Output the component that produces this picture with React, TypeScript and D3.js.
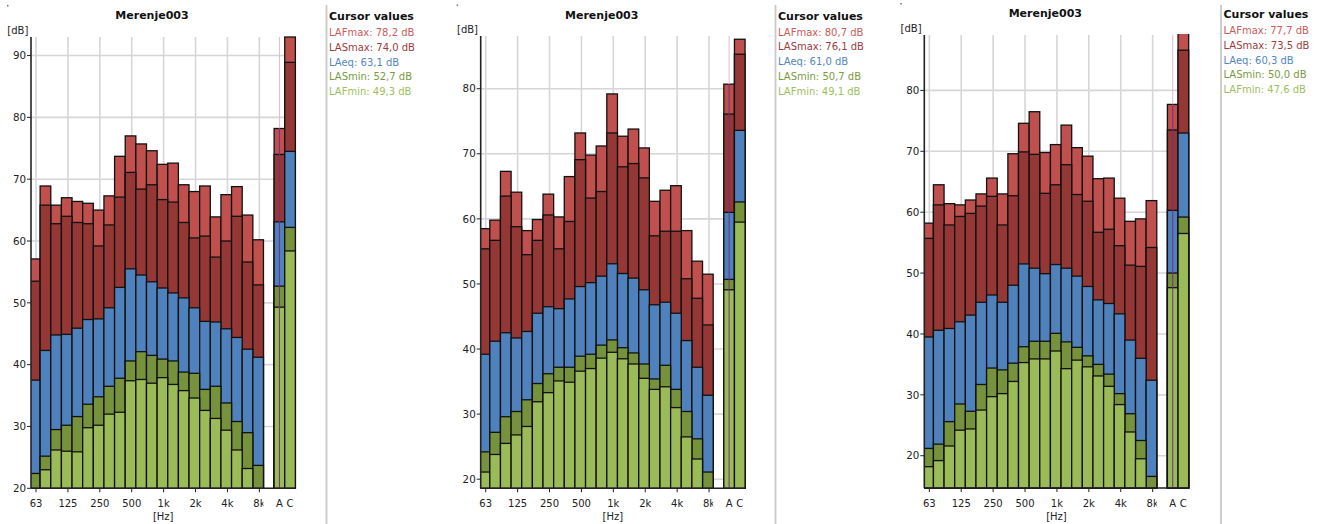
import React from 'react';
import * as d3 from 'd3';

// ---------- data ----------
const BANDS = ['63', '80', '100', '125', '160', '200', '250', '315', '400', '500', '630', '800', '1k', '1.25k', '1.6k', '2k', '2.5k', '3.15k', '4k', '5k', '6.3k', '8k'];
const SLOTS = [...BANDS, 'gap', 'A', 'C'];
const OCTAVE_TICKS = ['63', '125', '250', '500', '1k', '2k', '4k', '8k'];
const OCTAVE_LABELS = ['63', '125', '250', '500', '1k', '2k', '4k', '8k'];
const SERIES = ['LAFmax', 'LASmax', 'LAeq', 'LASmin', 'LAFmin'];
const BAR_COLORS = ['#C0504D', '#953735', '#4F81BD', '#76923C', '#9BBB59'];
const TEXT_COLORS = ['#CB5B59', '#A03C3A', '#5486C2', '#7A9A3F', '#9DBF5C'];
const TITLE = 'Merenje003';

// panel 1
const p1LAFmax = [57.1, 68.9, 65.8, 67.0, 66.4, 66.1, 65.0, 67.3, 73.7, 77.0, 75.7, 74.6, 72.4, 72.6, 69.1, 68.0, 68.9, 63.9, 67.5, 68.8, 64.2, 60.2];
const p1LASmax = [53.5, 65.8, 62.8, 64.0, 63.0, 62.8, 59.2, 62.6, 67.1, 71.1, 68.4, 69.1, 66.7, 66.3, 63.0, 60.5, 60.8, 57.4, 60.0, 64.0, 56.6, 52.9];
const p1LAeq = [37.5, 42.3, 44.8, 44.9, 45.9, 47.3, 47.4, 49.2, 52.5, 55.5, 54.5, 53.4, 52.4, 51.6, 50.8, 49.2, 47.0, 46.9, 45.8, 44.4, 42.5, 41.2];
const p1LASmin = [22.4, 25.2, 29.5, 30.2, 31.6, 33.6, 34.8, 36.5, 37.8, 40.6, 42.1, 41.5, 40.9, 40.6, 38.8, 38.6, 36.0, 36.5, 33.8, 30.8, 29.0, 23.7];
const p1LAFmin = [19.5, 23.0, 26.2, 26.0, 25.9, 29.8, 30.2, 32.0, 32.3, 37.4, 37.6, 37.0, 37.9, 36.8, 35.8, 34.6, 32.6, 31.3, 29.4, 26.2, 23.2, 19.0];
const p1A = [78.2, 74.0, 63.1, 52.7, 49.3];
const p1C = [93.0, 88.9, 74.5, 62.2, 58.4];
const p1Ticks = [20, 30, 40, 50, 60, 70, 80, 90];

// panel 2
const p2LAFmax = [58.5, 59.8, 67.3, 64.1, 58.2, 59.9, 63.8, 60.3, 66.5, 73.2, 69.8, 71.2, 79.2, 72.7, 73.8, 70.9, 62.7, 64.4, 65.1, 58.2, 53.5, 51.5];
const p2LASmax = [55.4, 56.7, 63.5, 58.8, 54.5, 56.7, 60.6, 55.4, 59.6, 69.1, 63.2, 64.2, 73.2, 68.0, 68.5, 66.3, 57.4, 58.1, 58.1, 50.8, 47.8, 43.7];
const p2LAeq = [39.2, 41.2, 42.5, 41.7, 42.7, 45.5, 46.5, 46.2, 47.7, 49.6, 50.2, 51.2, 53.1, 51.6, 50.9, 49.1, 46.8, 47.2, 45.5, 41.3, 37.2, 32.9];
const p2LASmin = [24.2, 27.2, 29.6, 30.4, 32.2, 34.7, 36.2, 37.2, 37.2, 38.9, 39.2, 40.6, 41.4, 40.2, 39.4, 37.7, 35.4, 37.5, 33.8, 30.4, 26.2, 21.1];
const p2LAFmin = [21.1, 23.8, 25.5, 26.8, 28.1, 31.9, 33.3, 35.1, 34.9, 36.6, 37.0, 38.6, 39.5, 38.5, 37.7, 35.5, 33.8, 34.2, 31.0, 26.5, 23.1, 18.0];
const p2A = [80.7, 76.1, 61.0, 50.7, 49.1];
const p2C = [87.6, 85.3, 73.6, 62.6, 59.5];
const p2Ticks = [20, 30, 40, 50, 60, 70, 80];

// panel 3
const p3LAFmax = [58.2, 64.5, 61.4, 61.2, 62.0, 63.0, 65.6, 63.0, 69.6, 74.6, 76.5, 69.8, 71.1, 74.3, 70.6, 69.2, 65.5, 65.6, 62.3, 58.5, 58.9, 61.9];
const p3LASmax = [55.7, 61.2, 57.9, 59.3, 59.8, 61.0, 62.6, 57.9, 62.7, 69.9, 69.5, 63.1, 64.5, 67.8, 62.9, 61.8, 56.7, 57.2, 54.5, 51.3, 51.1, 54.2];
const p3LAeq = [39.5, 40.6, 40.9, 42.0, 43.1, 45.2, 46.4, 45.2, 48.0, 51.5, 50.8, 49.9, 51.4, 50.8, 49.5, 47.8, 45.6, 45.0, 43.3, 39.0, 36.0, 32.4];
const p3LASmin = [21.2, 21.9, 25.6, 28.5, 27.3, 31.7, 34.4, 34.1, 35.2, 37.9, 38.8, 38.8, 40.1, 38.7, 37.8, 36.4, 35.0, 33.4, 30.2, 26.9, 22.5, 16.6];
const p3LAFmin = [18.2, 19.2, 21.6, 24.2, 24.4, 27.5, 29.7, 30.2, 32.2, 35.3, 35.9, 35.9, 37.2, 34.3, 35.7, 34.6, 33.1, 31.4, 28.4, 23.9, 19.5, 14.0];
const p3A = [77.7, 73.5, 60.3, 50.0, 47.6];
const p3C = [90.0, 86.6, 73.0, 59.2, 56.5];
const p3Ticks = [20, 30, 40, 50, 60, 70, 80];

// ---------- layout ----------
const FONT = 'DejaVu Sans, Verdana, sans-serif';
const BW = 10.635;

type Layout = { left: number; top: number; bottom: number; yMin: number; yMax: number; sep: number; dy: number };
type PanelDef = { series: number[][]; A: number[]; C: number[]; ticks: number[]; layout: Layout };

const PANELS: PanelDef[] = [
  { series: [p1LAFmax, p1LASmax, p1LAeq, p1LASmin, p1LAFmin], A: p1A, C: p1C, ticks: p1Ticks,
    layout: { left: 31, top: 37, bottom: 488.3, yMin: 20, yMax: 93.0, sep: 326.5, dy: 0 } },
  { series: [p2LAFmax, p2LASmax, p2LAeq, p2LASmin, p2LAFmin], A: p2A, C: p2C, ticks: p2Ticks,
    layout: { left: 480.7, top: 36, bottom: 488.3, yMin: 18.6, yMax: 88.1, sep: 775.5, dy: -0.5 } },
  { series: [p3LAFmax, p3LASmax, p3LAeq, p3LASmin, p3LAFmin], A: p3A, C: p3C, ticks: p3Ticks,
    layout: { left: 924.3, top: 35, bottom: 488, yMin: 14.7, yMax: 89.1, sep: 1221, dy: -2 } },
];

function fmt(v: number) {
  return v.toFixed(1).replace('.', ',');
}

function Panel({ p, idx }: { p: PanelDef; idx: number }) {
  const L = p.layout;
  const x = d3.scaleBand<string>().domain(SLOTS).range([L.left - 1.5, L.left - 1.5 + SLOTS.length * BW]).padding(0);
  const y = d3.scaleLinear().domain([L.yMin, L.yMax]).range([L.bottom, L.top]);
  const bw = x.bandwidth();
  const right = (x('C') as number) + bw;
  const gapStart = x('gap') as number;
  const clipId = `plotclip${idx}`;
  const labClip = `labclip${idx}`;
  const gx = (t: string) => (x(t) as number) + bw / 2 + 1.2;
  const aCenter = (x('A') as number) + bw / 2;

  const bars: React.ReactNode[] = [];
  p.series.forEach((vals, si) => {
    vals.forEach((v, bi) => {
      const b = BANDS[bi];
      const yy = y(v);
      if (yy >= L.bottom) return;
      bars.push(
        <rect key={`b${si}-${bi}`} x={x(b)} y={yy} width={bw} height={L.bottom - yy}
          fill={BAR_COLORS[si]} stroke="#111" strokeWidth={1.3} />
      );
    });
  });
  SERIES.forEach((_, si) => {
    (['A', 'C'] as const).forEach((k) => {
      const v = (k === 'A' ? p.A : p.C)[si];
      const yy = y(v);
      bars.push(
        <rect key={`${k}${si}`} x={x(k)} y={yy} width={bw} height={L.bottom - yy}
          fill={BAR_COLORS[si]} stroke="#111" strokeWidth={1.3} />
      );
    });
  });

  const titleX = L.left + 121;
  const legendX = L.sep + 2.5;
  const aTop = y(p.A[0]);

  return (
    <g>
      <defs>
        <clipPath id={clipId}>
          <rect x={L.left} y={L.top - 1} width={right - L.left + 2} height={L.bottom - L.top + 2} />
        </clipPath>
        <clipPath id={labClip}>
          <rect x={L.left - 30} y={L.bottom} width={gapStart - L.left + 30} height={40} />
        </clipPath>
      </defs>
      {/* tiny corner mark */}
      <rect x={L.left - 24} y={5 + L.dy} width={1.5} height={1.5} fill="#777" />
      {/* title */}
      <text x={titleX} y={19 + L.dy} textAnchor="middle" fontFamily={FONT} fontWeight="bold" fontSize={11} fill="#111">{TITLE}</text>
      <text x={L.left - 23.7} y={33.5 + L.dy} fontFamily={FONT} fontSize={10} fill="#222">[dB]</text>

      {/* gridlines */}
      {p.ticks.map((t) => (
        <line key={`hg${t}`} x1={L.left} x2={right} y1={y(t)} y2={y(t)} stroke="#d6d6d6" strokeWidth={1.6} />
      ))}
      {OCTAVE_TICKS.map((t) => (
        <line key={`vg${t}`} x1={gx(t)} x2={gx(t)} y1={L.top} y2={L.bottom} stroke="#d6d6d6" strokeWidth={1.6} />
      ))}

      {/* bars */}
      <g clipPath={`url(#${clipId})`}>
        {bars}
        <line x1={aCenter} x2={aCenter} y1={L.top} y2={aTop} stroke="#d7bfd7" strokeWidth={1} />
        <line x1={aCenter} x2={aCenter} y1={aTop} y2={L.bottom} stroke="#72307e" strokeWidth={1} />
      </g>

      {/* axes */}
      <line x1={L.left} x2={L.left} y1={L.top} y2={L.bottom} stroke="#222" strokeWidth={1.6} />
      <line x1={L.left} x2={right} y1={L.bottom} y2={L.bottom} stroke="#222" strokeWidth={1.6} />
      {p.ticks.map((t) => (
        <g key={`yt${t}`}>
          <line x1={L.left - 4} x2={L.left} y1={y(t)} y2={y(t)} stroke="#222" strokeWidth={1} />
          <text x={L.left - 5} y={y(t) + 3.7} textAnchor="end" fontFamily={FONT} fontSize={10.3} fill="#222">{t}</text>
        </g>
      ))}
      {OCTAVE_TICKS.map((t) => (
        <line key={`xt${t}`} x1={gx(t)} x2={gx(t)} y1={L.bottom} y2={L.bottom + 4} stroke="#222" strokeWidth={1} />
      ))}
      <g clipPath={`url(#${labClip})`}>
        {OCTAVE_TICKS.map((t, i) => (
          <text key={`xl${t}`} x={gx(t)} y={506.5} textAnchor="middle" fontFamily={FONT} fontSize={10} fill="#222">{OCTAVE_LABELS[i]}</text>
        ))}
      </g>
      {(['A', 'C'] as const).map((k) => (
        <text key={`xl${k}`} x={(x(k) as number) + bw / 2} y={506.5} textAnchor="middle" fontFamily={FONT} fontSize={10} fill="#222">{k}</text>
      ))}
      <text x={(L.left + right) / 2} y={520} textAnchor="middle" fontFamily={FONT} fontSize={10} fill="#222">[Hz]</text>

      {/* separator and legend */}
      <line x1={L.sep} x2={L.sep} y1={5} y2={524} stroke="#c9c9c9" strokeWidth={1.8} />
      <text x={legendX} y={20 + L.dy} fontFamily={FONT} fontWeight="bold" fontSize={11} fill="#111">Cursor values</text>
      {SERIES.map((s, si) => (
        <text key={`lg${s}`} x={legendX} y={36 + si * 14.75 + L.dy} fontFamily={FONT} fontSize={10} fill={TEXT_COLORS[si]}>
          {`${s}: ${fmt(p.A[si])} dB`}
        </text>
      ))}
    </g>
  );
}

export default function App() {
  return (
    <svg width={1328} height={524} style={{ position: 'absolute', left: 0, top: 0, background: '#fff' }}>
      <rect x={0} y={0} width={1328} height={524} fill="#fff" />
      {PANELS.map((p, i) => (
        <Panel key={i} p={p} idx={i} />
      ))}
    </svg>
  );
}
